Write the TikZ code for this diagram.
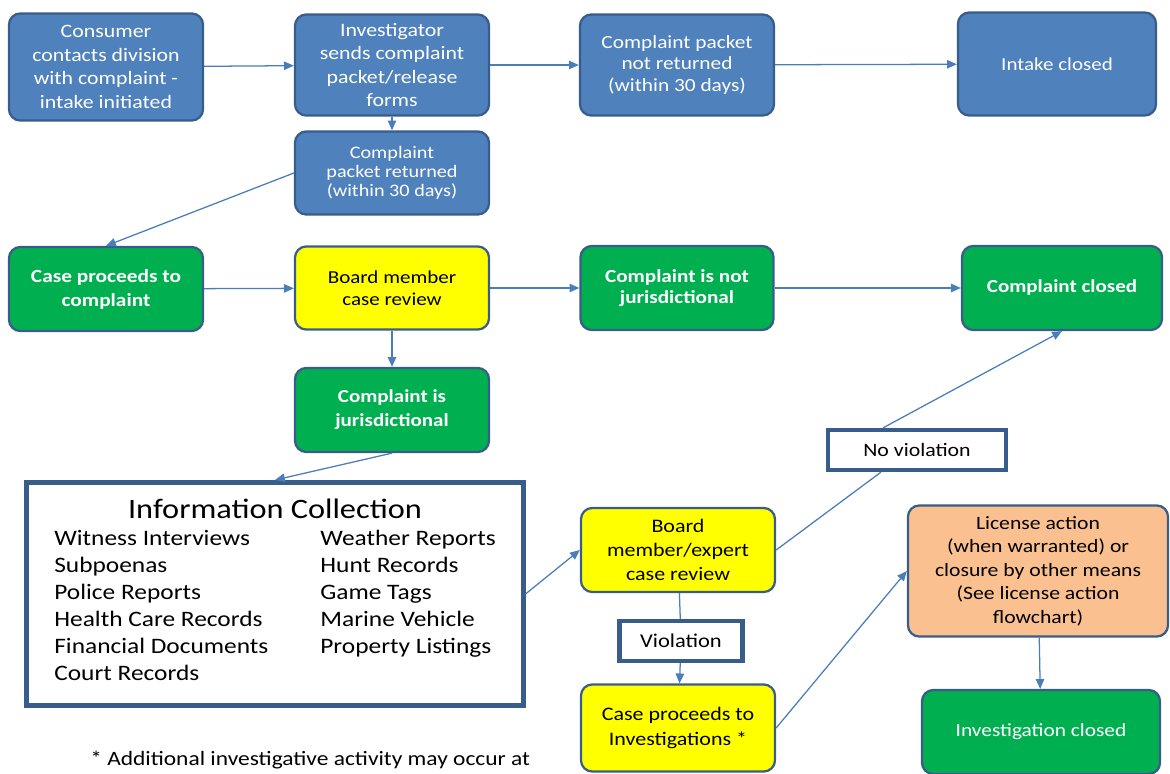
\documentclass[tikz,border=0pt]{standalone}
\usepackage{fontspec}
\setmainfont{Carlito}[FakeStretch=1.15]
\usetikzlibrary{arrows.meta,positioning}
\definecolor{boxblue}{HTML}{4F81BD}
\definecolor{edgeblue}{HTML}{385D8A}
\definecolor{boxgreen}{HTML}{00B050}
\definecolor{boxyellow}{HTML}{FFFF00}
\definecolor{boxorange}{HTML}{FAC090}
\definecolor{lineblue}{HTML}{4A7EBB}

\begin{document}
\begin{tikzpicture}[x=0.025cm,y=-0.025cm,
  bx/.style={draw=edgeblue,line width=1.6pt,rounded corners=8pt,align=center,minimum width=4.85cm,minimum height=2.1cm,inner sep=3pt,font=\fontsize{13.5}{16.7}\selectfont},
  blbox/.style={bx,fill=boxblue,text=white},
  grbox/.style={bx,fill=boxgreen,text=white,font=\fontsize{13.2}{17}\selectfont\bfseries},
  ylbox/.style={bx,fill=boxyellow,text=black},
  orbox/.style={bx,fill=boxorange,text=black},
  lbx/.style={draw=edgeblue,line width=3pt,fill=white,minimum height=1cm,font=\fontsize{13.5}{16}\selectfont},
  ar/.style={-{Triangle[length=7pt,width=6pt]},lineblue,line width=0.9pt},
  ln/.style={lineblue,line width=0.9pt}]
\useasboundingbox (0,0) rectangle (1170,774);
% intake row
\node[blbox,minimum height=2.675cm] (cons) at (106,67) {Consumer\\contacts division\\with complaint -\\intake initiated};
\node[blbox,minimum height=2.525cm] (inv) at (392,65) {Investigator\\sends complaint\\packet/release\\forms};
\node[blbox,minimum height=2.525cm,font=\fontsize{13.2}{15}\selectfont] (nret) at (677,65) {Complaint packet\\not returned\\(within 30 days)};
\node[blbox,minimum height=2.575cm,minimum width=4.95cm,font=\fontsize{13}{16}\selectfont] (iclo) at (1057,64) {Intake closed};
\node[blbox,minimum height=2.075cm,font=\fontsize{12.5}{13.5}\selectfont] (ret) at (392,173) {Complaint\\packet returned\\(within 30 days)};
% complaint row
\node[grbox] (cpc) at (106,289) {Case proceeds to\\complaint};
\node[ylbox,minimum height=2.075cm,font=\fontsize{13}{16}\selectfont] (brd) at (392,288) {Board member\\case review};
\node[grbox,minimum width=4.825cm,font=\fontsize{13.1}{15}\selectfont\bfseries] (njur) at (677,288) {Complaint is not\\jurisdictional};
\node[grbox,minimum width=5cm,font=\fontsize{13}{16}\selectfont\bfseries] (cclo) at (1062,288) {Complaint closed};
\node[grbox,font=\fontsize{13}{17}\selectfont\bfseries] (jur) at (392,410) {Complaint is\\jurisdictional};
% investigation
\node[draw=edgeblue,line width=3.5pt,minimum width=12.4cm,minimum height=5.575cm,inner sep=0pt] (info) at (275,594)
  {\fontsize{15.7}{19.2}\selectfont\begin{tabular}{@{}p{6.65cm}@{}l@{}}
   \multicolumn{2}{c}{\fontsize{20}{23}\selectfont Information Collection}\\
   Witness Interviews & Weather Reports\\
   Subpoenas & Hunt Records\\
   Police Reports & Game Tags\\
   Health Care Records & Marine Vehicle\\
   Financial Documents & Property Listings\\
   Court Records & \\
  \end{tabular}};
\node[ylbox,font=\fontsize{13.6}{17}\selectfont] (exp) at (678,550) {Board\\member/expert\\case review};
\node[lbx,minimum width=4.45cm] (nov) at (917,450) {No violation};
\node[lbx,minimum width=3.075cm,font=\fontsize{13.9}{16}\selectfont] (vio) at (681,641) {Violation};
\node[ylbox,minimum height=2.175cm,font=\fontsize{13.6}{17.5}\selectfont] (cinv) at (678,728) {Case proceeds to\\Investigations *};
\node[orbox,minimum width=6.5cm,minimum height=3.275cm,font=\fontsize{13.4}{16.7}\selectfont] (lic) at (1038,571) {License action\\(when warranted) or\\closure by other means\\(See license action\\flowchart)};
\node[grbox,minimum width=5.95cm,font=\fontsize{13.2}{17}\selectfont] (invclo) at (1041,732) {Investigation closed};
\node[anchor=west,font=\fontsize{14.5}{17}\selectfont,inner sep=0pt] (note) at (90,760) {* Additional investigative activity may occur at};
% connectors
\draw[ar] (cons)--(inv); \draw[ar] (inv)--(nret); \draw[ar] (nret)--(iclo);
\draw[ar] (inv)--(ret); \draw[ar] (ret.west)--(cpc.north);
\draw[ar] (cpc)--(brd); \draw[ar] (brd)--(njur); \draw[ar] (njur)--(cclo);
\draw[ar] (brd)--(jur); \draw[ar] (jur.south)--(info.north);
\draw[ar] (info.east)--(exp.west);
\draw[ln] (exp.east)--([xshift=-0.9cm]nov.south);
\draw[ar] ([xshift=-0.85cm]nov.north)--(cclo.south);
\draw[ln] (exp)--(vio); \draw[ar] (vio)--(cinv);
\draw[ar] (cinv.east)--(lic.west);
\draw[ar] (lic)--(invclo);
\end{tikzpicture}
\end{document}
